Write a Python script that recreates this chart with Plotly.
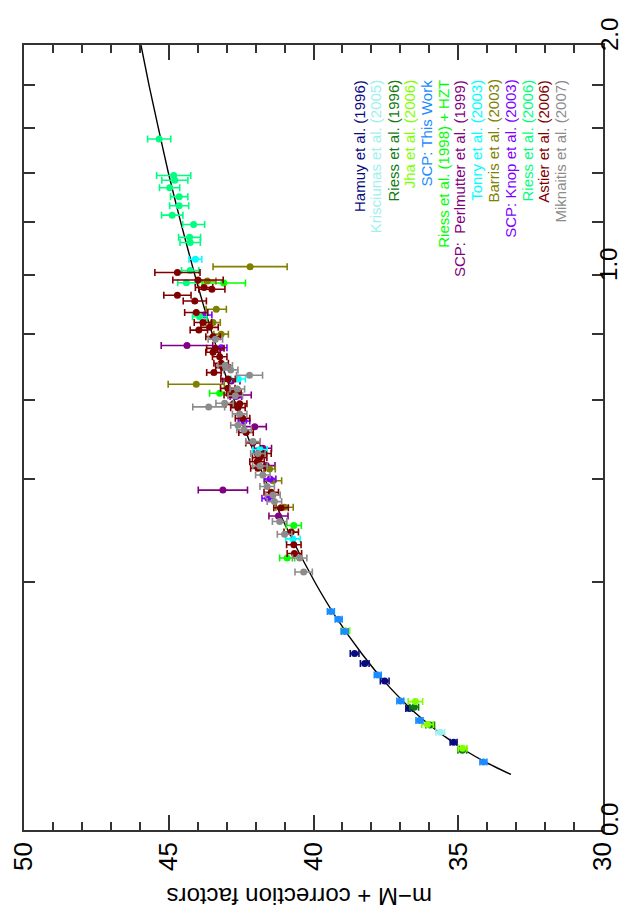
import numpy as np
import plotly.graph_objects as go

# ---------------- data (redshift z, distance modulus mu, mu error) ----------------
curve_z = [0.01, 0.015, 0.02, 0.03, 0.04, 0.05, 0.07, 0.1, 0.15, 0.2, 0.3, 0.4, 0.5, 0.6,
           0.7, 0.8, 0.9, 1.0, 1.2, 1.4, 1.6, 1.8, 2.0]
curve_mu = [33.18, 34.06, 34.70, 35.59, 36.24, 36.74, 37.50, 38.31, 39.27, 39.96, 40.96,
            41.68, 42.26, 42.74, 43.15, 43.50, 43.82, 44.10, 44.59, 45.01, 45.36, 45.68, 45.96]

hamuy_z = [0.101, 0.090, 0.072, 0.048, 0.025]
hamuy_mu = [38.58, 38.23, 37.54, 36.69, 35.16]
hamuy_err = [0.15, 0.15, 0.15, 0.12, 0.12]

krisciunas_z = [0.031]
krisciunas_mu = [35.62]
krisciunas_err = [0.15]

riess96_z = [0.049, 0.0357, 0.0207]
riess96_mu = [36.52, 35.97, 34.86]
riess96_err = [0.15, 0.15, 0.15]

jha_z = [0.0535, 0.0362, 0.0217, 0.129]
jha_mu = [36.48, 36.06, 34.85, 38.90]
jha_err = [0.25, 0.2, 0.15, 0.15]

scp_z = [0.155, 0.144, 0.128, 0.078, 0.054, 0.039, 0.015]
scp_mu = [39.40, 39.13, 38.92, 37.78, 37.00, 36.34, 34.13]
scp_err = [0.12, 0.12, 0.12, 0.12, 0.12, 0.12, 0.12]

riess98_z = [0.240, 0.301, 0.619, 0.971]
riess98_mu = [40.91, 40.68, 43.24, 43.10]
riess98_err = [0.26, 0.26, 0.35, 0.75]

perlmutter_z = [0.375, 0.762, 0.320, 0.431, 0.654, 0.614, 0.528, 0.473]
perlmutter_mu = [43.13, 44.37, 41.21, 41.63, 42.84, 42.55, 42.03, 41.75]
perlmutter_err = [0.85, 0.89, 0.33, 0.30, 0.30, 0.40, 0.40, 0.30]

tonry_z = [1.057, 0.275, 0.66, 0.47]
tonry_mu = [44.08, 40.71, 42.60, 41.85]
tonry_err = [0.22, 0.25, 0.25, 0.25]

barris_z = [1.030, 0.645, 0.978, 0.880, 0.836, 0.798, 0.338, 0.396, 0.423]
barris_mu = [42.19, 44.05, 43.67, 43.36, 43.47, 43.19, 41.00, 41.40, 41.52]
barris_err = [1.28, 0.97, 0.30, 0.35, 0.25, 0.25, 0.30, 0.30, 0.20]

knop_z = [0.357, 0.755, 0.543, 0.61, 0.40, 0.861]
knop_mu = [41.58, 43.19, 42.40, 42.68, 41.50, 43.76]
knop_err = [0.2, 0.2, 0.2, 0.2, 0.2, 0.25]

riess06_z = [1.55, 1.39, 1.37, 1.339, 1.302, 1.265, 1.227, 1.19, 1.14, 1.12, 1.016, 0.972, 0.855]
riess06_mu = [45.33, 44.83, 44.79, 44.97, 44.64, 44.64, 44.88, 44.14, 44.28, 44.26, 44.26, 44.39, 43.93]
riess06_err = [0.40, 0.59, 0.45, 0.35, 0.30, 0.33, 0.37, 0.38, 0.38, 0.35, 0.30, 0.30, 0.25]

astier_z = [1.009, 0.982, 0.955, 0.949, 0.928, 0.908, 0.869, 0.836, 0.820, 0.811, 0.790, 0.753,
            0.741, 0.727, 0.707, 0.694, 0.679, 0.633, 0.614, 0.588, 0.579, 0.59, 0.450, 0.425,
            0.370, 0.337, 0.288, 0.264, 0.248, 0.513, 0.486, 0.46, 0.44, 0.55, 0.62, 0.66]
astier_mu = [44.70, 43.99, 43.78, 43.51, 44.70, 44.10, 44.05, 43.82, 43.59, 43.96, 43.47, 43.39,
             43.47, 43.24, 43.19, 43.13, 43.44, 42.96, 42.84, 42.78, 42.61, 42.55, 41.86, 41.92,
             41.46, 41.12, 40.77, 40.68, 40.66, 42.33, 42.09, 41.71, 41.95, 42.45, 42.75, 42.95]
astier_err = [0.78, 0.87, 0.30, 0.45, 0.47, 0.40, 0.40, 0.30, 0.30, 0.30, 0.25, 0.30,
              0.25, 0.25, 0.25, 0.25, 0.25, 0.25, 0.25, 0.25, 0.25, 0.25, 0.25, 0.25,
              0.25, 0.25, 0.25, 0.25, 0.25, 0.25, 0.25, 0.25, 0.25, 0.25, 0.25, 0.25]

miknaitis_z = [0.216, 0.240, 0.284, 0.309, 0.364, 0.383, 0.409, 0.782, 0.687, 0.671, 0.612,
               0.631, 0.581, 0.591, 0.562, 0.532, 0.49, 0.46, 0.43, 0.52, 0.70, 0.35]
miknaitis_mu = [40.34, 40.48, 41.00, 41.17, 41.40, 41.60, 41.75, 43.39, 42.86, 42.21, 42.70,
                42.63, 43.62, 43.07, 42.55, 42.61, 42.09, 41.92, 41.85, 42.40, 43.05, 41.35]
miknaitis_err = [0.30, 0.25, 0.25, 0.25, 0.25, 0.25, 0.25, 0.25, 0.25, 0.45, 0.25,
                 0.25, 0.55, 0.30, 0.25, 0.25, 0.25, 0.25, 0.25, 0.25, 0.25, 0.25]

series_names = ["Hamuy et al. (1996)", "Krisciunas et al. (2005)", "Riess et al. (1996)",
                "Jha et al. (2006)", "SCP: This Work", "Riess et al. (1998) + HZT",
                "SCP:  Perlmutter et al. (1999)", "Tonry et al. (2003)", "Barris et al. (2003)",
                "SCP: Knop et al. (2003)", "Riess et al. (2006)", "Astier et al. (2006)",
                "Miknaitis et al. (2007)"]
series_colors = ["#0a0a80", "#a0f0f0", "#107a10", "#80ff00", "#1a8cff", "#00ff00",
                 "#800080", "#00ffff", "#808000", "#8000ff", "#00ff80", "#800000", "#8c8c8c"]
series_data = [(hamuy_z, hamuy_mu, hamuy_err), (krisciunas_z, krisciunas_mu, krisciunas_err),
               (riess96_z, riess96_mu, riess96_err), (jha_z, jha_mu, jha_err),
               (scp_z, scp_mu, scp_err), (riess98_z, riess98_mu, riess98_err),
               (perlmutter_z, perlmutter_mu, perlmutter_err), (tonry_z, tonry_mu, tonry_err),
               (barris_z, barris_mu, barris_err), (knop_z, knop_mu, knop_err),
               (riess06_z, riess06_mu, riess06_err), (astier_z, astier_mu, astier_err),
               (miknaitis_z, miknaitis_mu, miknaitis_err)]

z_ticks = [0.0, 0.2, 0.4, 0.6, 0.8, 1.0, 1.2, 1.4, 1.6, 1.8, 2.0]
z_labeled = [0.0, 1.0, 2.0]
z_labels = ["0.0", "1.0", "2.0"]

# ---------------- figure ----------------
FONT = "Liberation Sans, Arial, Helvetica, sans-serif"
W, H = 627, 915
ML, MR, MT, MB = 16, 32, 37, 93

fig = go.Figure()

fig.add_trace(go.Scatter(x=curve_mu, y=np.sqrt(curve_z), mode="lines",
                         line=dict(color="black", width=1.4, shape="spline", smoothing=0.6),
                         hoverinfo="skip", showlegend=False))

for name, col, (zz, mm, ee) in zip(series_names, series_colors, series_data):
    fig.add_trace(go.Scatter(
        x=mm, y=np.sqrt(zz), mode="markers", name=name, showlegend=False,
        marker=dict(color=col, size=7, line=dict(width=0)),
        error_x=dict(type="data", array=ee, visible=True, color=col, thickness=1.6, width=3.5)))

pw = W - ML - MR
ph = H - MT - MB

# legend as rotated text columns
for i, (name, col) in enumerate(zip(series_names, series_colors)):
    xc = 351 + i * 16.75
    fig.add_annotation(xref="paper", yref="paper", x=(xc - ML) / pw, y=(H - MB - 70) / ph,
                       text=name, showarrow=False, textangle=-90, xanchor="center",
                       yanchor="top", font=dict(family=FONT, size=15, color=col))

# redshift tick labels (rotated), placed at the tick positions of the y axis
for zv, lab in zip(z_labeled, z_labels):
    fig.add_annotation(xref="paper", yref="y", x=(601 - ML) / pw, y=float(np.sqrt(zv)),
                       yshift=10, text=lab, showarrow=False, textangle=-90,
                       xanchor="center", yanchor="middle", borderpad=0,
                       font=dict(family=FONT, size=24, color="black"))

# upside-down axis title
fig.add_annotation(xref="paper", yref="paper", x=(292 - ML) / pw, y=(H - MB - 889) / ph,
                   text="m\u2212M + correction factors", showarrow=False, textangle=180,
                   xanchor="center", yanchor="middle",
                   font=dict(family=FONT, size=24, color="black"))

axcol = "#333333"
fig.update_layout(
    width=W, height=H, margin=dict(l=ML, r=MR, t=MT, b=MB),
    paper_bgcolor="white", plot_bgcolor="white", showlegend=False,
    font=dict(family=FONT, color="black"),
    xaxis=dict(range=[50, 30], tickmode="linear", tick0=30, dtick=5, automargin=False,
               ticks="inside", ticklen=15, tickwidth=1.5, tickcolor=axcol,
               minor=dict(dtick=1, ticks="inside", ticklen=8, tickwidth=1.5, tickcolor=axcol),
               showline=True, linecolor=axcol, linewidth=1.5, mirror="ticks",
               showgrid=False, zeroline=False, tickangle=-90,
               tickfont=dict(family=FONT, size=26, color="black")),
    yaxis=dict(range=[0, np.sqrt(2.0)], tickmode="array", tickvals=np.sqrt(z_ticks),
               showticklabels=False, side="right", automargin=False,
               ticks="inside", ticklen=11, tickwidth=1.5, tickcolor=axcol,
               showline=True, linecolor=axcol, linewidth=1.5, mirror="ticks",
               showgrid=False, zeroline=False),
)

fig.write_html("out.html")
